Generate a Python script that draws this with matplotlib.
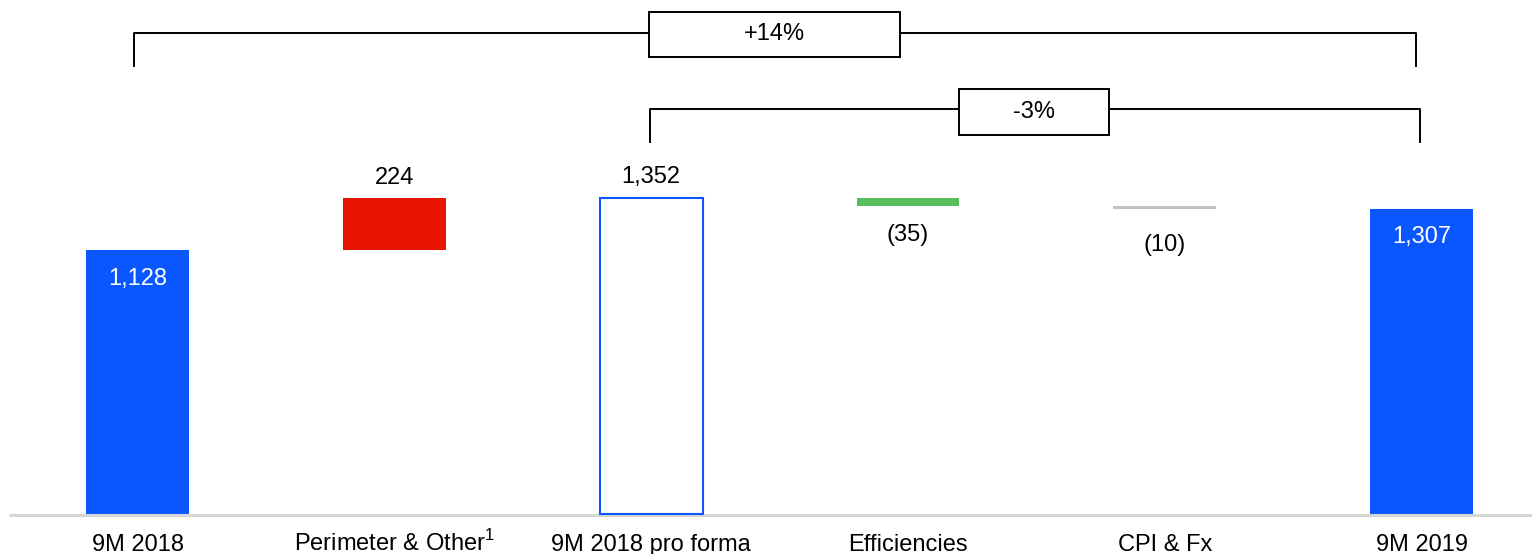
import matplotlib.pyplot as plt
from matplotlib.patches import Rectangle

plt.rcParams['font.family'] = ['Liberation Sans', 'DejaVu Sans']
plt.rcParams['mathtext.fontset'] = 'custom'
plt.rcParams['mathtext.rm'] = 'Liberation Sans'

# data
categories = ['9M 2018', 'Perimeter & Other$^{\\mathrm{1}}$', '9M 2018 pro forma',
              'Efficiencies', 'CPI & Fx', '9M 2019']
values = [1128, 224, 1352, -35, -10, 1307]
kinds = ['total', 'delta', 'outline', 'delta', 'delta', 'total']
value_labels = ['1,128', '224', '1,352', '(35)', '(10)', '1,307']
bracket_labels = ['+14%', '-3%']

BLUE = '#0A56FF'
RED = '#E61400'
GREEN = '#5BBE5E'
GREY = '#C3C3C3'

fig = plt.figure(figsize=(15.32, 5.54), dpi=100)
ax = fig.add_axes([0, 0, 1, 1])
ax.set_xlim(-0.536, 5.43)
ax.set_ylim(-171, 2199)
ax.axis('off')

W = 0.4
running = 0
for i, (v, k, lab) in enumerate(zip(values, kinds, value_labels)):
    if k == 'delta':
        bottom = running if v > 0 else running + v
        height = abs(v)
        color = RED if v > 0 else (GREEN if i == 3 else GREY)
        ax.bar(i, height, bottom=bottom, width=W, color=color, zorder=3)
        running += v
        if v > 0:
            ax.text(i, running + 86, lab, ha='center', va='center', fontsize=17)
        else:
            off = 123 if i == 3 else 156
            ax.text(i, running - off, lab, ha='center', va='center', fontsize=17)
    elif k == 'outline':
        ax.bar(i, v, width=W, facecolor='white', edgecolor=BLUE, linewidth=1.5, zorder=3)
        running = v
        ax.text(i, v + 90, lab, ha='center', va='center', fontsize=17)
    else:
        ax.bar(i, v, width=W, color=BLUE, zorder=3)
        running = v
        ax.text(i, v - 124, lab, ha='center', va='center', fontsize=17, color='white', zorder=4)
    ax.text(i, -158, categories[i], ha='center', va='baseline', fontsize=17)

# baseline
ax.plot([-0.50, 5.43], [-6, -6], color='#D6D6D6', lw=2.2, zorder=2, solid_capstyle='butt')


def bracket(x0, x1, y, ytick, label, bx, bw, by0, by1):
    ax.plot([x0, x0, x1, x1], [ytick, y, y, ytick], color='black', lw=1.4, zorder=2)
    ax.add_patch(Rectangle((bx - bw / 2, by0), bw, by1 - by0, facecolor='white',
                           edgecolor='black', lw=1.4, zorder=3))
    ax.text(bx, (by0 + by1) / 2, label, ha='center', va='center', fontsize=17, zorder=4)


bracket(-0.015, 4.978, 2056, 1918, bracket_labels[0], 2.48, 0.977, 1955, 2149)
bracket(1.995, 4.993, 1732, 1593, bracket_labels[1], 3.49, 0.582, 1621, 1819)

fig.savefig('out.png', dpi=100)
